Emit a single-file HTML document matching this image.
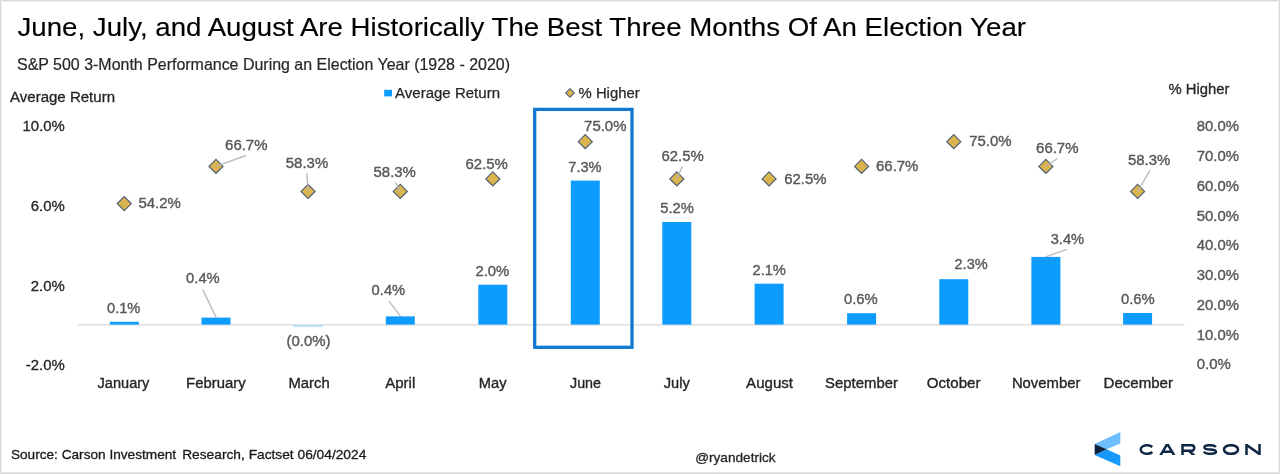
<!DOCTYPE html>
<html><head><meta charset="utf-8"><title>chart</title>
<style>
html,body{margin:0;padding:0;background:#fff;}
body{width:1280px;height:474px;overflow:hidden;position:relative;font-family:"Liberation Sans", sans-serif;}
svg{position:absolute;left:0;top:0;display:block;font-family:"Liberation Sans", sans-serif;filter:blur(0.6px);}
.b{position:absolute;background:#d9d9d9;}
</style></head><body>
<svg width="1280" height="474" viewBox="0 0 1280 474">
<text x="17.5" y="36.3" font-size="26.7" fill="#000" stroke="#000" stroke-width="0.15" text-anchor="start" textLength="1008.5" lengthAdjust="spacingAndGlyphs">June, July, and August Are Historically The Best Three Months Of An Election Year</text>
<text x="17" y="69.5" font-size="15.9" fill="#262626" stroke="#262626" stroke-width="0.2" text-anchor="start" textLength="493" lengthAdjust="spacingAndGlyphs">S&amp;P 500 3-Month Performance During an Election Year (1928 - 2020)</text>
<text x="10" y="102" font-size="14.67" fill="#262626" stroke="#262626" stroke-width="0.3" text-anchor="start" textLength="105" lengthAdjust="spacingAndGlyphs">Average Return</text>
<text x="1168.5" y="93.6" font-size="14.67" fill="#262626" stroke="#262626" stroke-width="0.3" text-anchor="start" textLength="61" lengthAdjust="spacingAndGlyphs">% Higher</text>
<rect x="384.2" y="89.8" width="7.8" height="6.6" fill="#0b9cfd"/>
<text x="395" y="97.6" font-size="14.67" fill="#262626" stroke="#262626" stroke-width="0.25" text-anchor="start" textLength="105" lengthAdjust="spacingAndGlyphs">Average Return</text>
<path d="M570 88.7 L574.3 93 L570 97.3 L565.7 93 Z" fill="#dab44c" stroke="#525f78" stroke-width="1.1"/>
<text x="578.6" y="97.6" font-size="14.67" fill="#262626" stroke="#262626" stroke-width="0.25" text-anchor="start" textLength="61" lengthAdjust="spacingAndGlyphs">% Higher</text>
<text x="22.599999999999994" y="131.3" font-size="14.67" fill="#262626" stroke="#262626" stroke-width="0.3" text-anchor="start" textLength="42.2" lengthAdjust="spacingAndGlyphs">10.0%</text>
<text x="30.799999999999997" y="210.6" font-size="14.67" fill="#262626" stroke="#262626" stroke-width="0.3" text-anchor="start" textLength="34" lengthAdjust="spacingAndGlyphs">6.0%</text>
<text x="30.799999999999997" y="291.4" font-size="14.67" fill="#262626" stroke="#262626" stroke-width="0.3" text-anchor="start" textLength="34" lengthAdjust="spacingAndGlyphs">2.0%</text>
<text x="25.799999999999997" y="370.0" font-size="14.67" fill="#262626" stroke="#262626" stroke-width="0.3" text-anchor="start" textLength="39" lengthAdjust="spacingAndGlyphs">-2.0%</text>
<text x="1196.8" y="131.2" font-size="14.9" fill="#595959" stroke="#595959" stroke-width="0.4" text-anchor="start" textLength="42.2" lengthAdjust="spacingAndGlyphs">80.0%</text>
<text x="1196.8" y="161.0" font-size="14.9" fill="#595959" stroke="#595959" stroke-width="0.4" text-anchor="start" textLength="42.2" lengthAdjust="spacingAndGlyphs">70.0%</text>
<text x="1196.8" y="190.7" font-size="14.9" fill="#595959" stroke="#595959" stroke-width="0.4" text-anchor="start" textLength="42.2" lengthAdjust="spacingAndGlyphs">60.0%</text>
<text x="1196.8" y="220.5" font-size="14.9" fill="#595959" stroke="#595959" stroke-width="0.4" text-anchor="start" textLength="42.2" lengthAdjust="spacingAndGlyphs">50.0%</text>
<text x="1196.8" y="250.2" font-size="14.9" fill="#595959" stroke="#595959" stroke-width="0.4" text-anchor="start" textLength="42.2" lengthAdjust="spacingAndGlyphs">40.0%</text>
<text x="1196.8" y="280.0" font-size="14.9" fill="#595959" stroke="#595959" stroke-width="0.4" text-anchor="start" textLength="42.2" lengthAdjust="spacingAndGlyphs">30.0%</text>
<text x="1196.8" y="309.8" font-size="14.9" fill="#595959" stroke="#595959" stroke-width="0.4" text-anchor="start" textLength="42.2" lengthAdjust="spacingAndGlyphs">20.0%</text>
<text x="1196.8" y="339.5" font-size="14.9" fill="#595959" stroke="#595959" stroke-width="0.4" text-anchor="start" textLength="42.2" lengthAdjust="spacingAndGlyphs">10.0%</text>
<text x="1196.8" y="369.3" font-size="14.9" fill="#595959" stroke="#595959" stroke-width="0.4" text-anchor="start" textLength="34" lengthAdjust="spacingAndGlyphs">0.0%</text>
<rect x="77.6" y="324.2" width="1107" height="1.3" fill="#d9d9d9"/>
<rect x="109.8" y="321.8" width="29" height="2.8" fill="#0b9cfd"/>
<rect x="201.5" y="317.6" width="29" height="7.0" fill="#0b9cfd"/>
<rect x="293.6" y="325.5" width="29" height="1.1" fill="#8fd0fb"/>
<rect x="385.8" y="316.4" width="29" height="8.2" fill="#0b9cfd"/>
<rect x="478.3" y="284.7" width="29" height="39.9" fill="#0b9cfd"/>
<rect x="570.8" y="180.6" width="29" height="144.0" fill="#0b9cfd"/>
<rect x="662.3" y="222.0" width="29" height="102.6" fill="#0b9cfd"/>
<rect x="754.6" y="283.7" width="29" height="40.9" fill="#0b9cfd"/>
<rect x="847.1" y="313.2" width="29" height="11.4" fill="#0b9cfd"/>
<rect x="939.3" y="279.2" width="29" height="45.4" fill="#0b9cfd"/>
<rect x="1031.4" y="256.9" width="29" height="67.7" fill="#0b9cfd"/>
<rect x="1123.1" y="313.0" width="29" height="11.6" fill="#0b9cfd"/>
<rect x="534.7" y="109.4" width="97.3" height="237.9" fill="none" stroke="#1278d2" stroke-width="3.3"/>
<path d="M124.3 196.6 L131.3 203.6 L124.3 210.6 L117.3 203.6 Z" fill="#dab44c" stroke="#525f78" stroke-width="1.2"/>
<path d="M216.0 159.4 L223.0 166.4 L216.0 173.4 L209.0 166.4 Z" fill="#dab44c" stroke="#525f78" stroke-width="1.2"/>
<path d="M308.1 184.4 L315.1 191.4 L308.1 198.4 L301.1 191.4 Z" fill="#dab44c" stroke="#525f78" stroke-width="1.2"/>
<path d="M400.3 184.4 L407.3 191.4 L400.3 198.4 L393.3 191.4 Z" fill="#dab44c" stroke="#525f78" stroke-width="1.2"/>
<path d="M492.8 171.9 L499.8 178.9 L492.8 185.9 L485.8 178.9 Z" fill="#dab44c" stroke="#525f78" stroke-width="1.2"/>
<path d="M585.3 134.7 L592.3 141.7 L585.3 148.7 L578.3 141.7 Z" fill="#dab44c" stroke="#525f78" stroke-width="1.2"/>
<path d="M676.8 171.9 L683.8 178.9 L676.8 185.9 L669.8 178.9 Z" fill="#dab44c" stroke="#525f78" stroke-width="1.2"/>
<path d="M769.1 171.9 L776.1 178.9 L769.1 185.9 L762.1 178.9 Z" fill="#dab44c" stroke="#525f78" stroke-width="1.2"/>
<path d="M861.6 159.4 L868.6 166.4 L861.6 173.4 L854.6 166.4 Z" fill="#dab44c" stroke="#525f78" stroke-width="1.2"/>
<path d="M953.8 134.7 L960.8 141.7 L953.8 148.7 L946.8 141.7 Z" fill="#dab44c" stroke="#525f78" stroke-width="1.2"/>
<path d="M1045.9 159.4 L1052.9 166.4 L1045.9 173.4 L1038.9 166.4 Z" fill="#dab44c" stroke="#525f78" stroke-width="1.2"/>
<path d="M1137.6 184.4 L1144.6 191.4 L1137.6 198.4 L1130.6 191.4 Z" fill="#dab44c" stroke="#525f78" stroke-width="1.2"/>
<line x1="246" y1="155.5" x2="216.0" y2="166.4" stroke="#b5b5b5" stroke-width="1.4" stroke-opacity="0.9"/>
<line x1="306.8" y1="173.3" x2="308.1" y2="191.4" stroke="#b5b5b5" stroke-width="1.4" stroke-opacity="0.9"/>
<line x1="395.3" y1="182.1" x2="400.3" y2="191.4" stroke="#b5b5b5" stroke-width="1.4" stroke-opacity="0.9"/>
<line x1="682.4" y1="166.2" x2="676.8" y2="178.9" stroke="#b5b5b5" stroke-width="1.4" stroke-opacity="0.9"/>
<line x1="1057.5" y1="158.5" x2="1045.9" y2="166.4" stroke="#b5b5b5" stroke-width="1.4" stroke-opacity="0.9"/>
<line x1="1150" y1="170.3" x2="1137.6" y2="191.4" stroke="#b5b5b5" stroke-width="1.4" stroke-opacity="0.9"/>
<line x1="202.6" y1="289.2" x2="216.2" y2="317.6" stroke="#b5b5b5" stroke-width="1.4" stroke-opacity="0.9"/>
<line x1="388.8" y1="300.8" x2="400.6" y2="316.4" stroke="#b5b5b5" stroke-width="1.4" stroke-opacity="0.9"/>
<line x1="1066.9" y1="249.3" x2="1045.6" y2="256.9" stroke="#b5b5b5" stroke-width="1.4" stroke-opacity="0.9"/>
<text x="138.4" y="208.3" font-size="15" fill="#595959" stroke="#595959" stroke-width="0.4" text-anchor="start" textLength="42.4" lengthAdjust="spacingAndGlyphs">54.2%</text>
<text x="225.1" y="149.5" font-size="15" fill="#595959" stroke="#595959" stroke-width="0.4" text-anchor="start" textLength="42.4" lengthAdjust="spacingAndGlyphs">66.7%</text>
<text x="285.8" y="168.4" font-size="15" fill="#595959" stroke="#595959" stroke-width="0.4" text-anchor="start" textLength="42.4" lengthAdjust="spacingAndGlyphs">58.3%</text>
<text x="373.5" y="176.7" font-size="15" fill="#595959" stroke="#595959" stroke-width="0.4" text-anchor="start" textLength="42.4" lengthAdjust="spacingAndGlyphs">58.3%</text>
<text x="465.5" y="168.6" font-size="15" fill="#595959" stroke="#595959" stroke-width="0.4" text-anchor="start" textLength="42.4" lengthAdjust="spacingAndGlyphs">62.5%</text>
<text x="584.1" y="130.9" font-size="15" fill="#595959" stroke="#595959" stroke-width="0.4" text-anchor="start" textLength="42.4" lengthAdjust="spacingAndGlyphs">75.0%</text>
<text x="661.4" y="160.6" font-size="15" fill="#595959" stroke="#595959" stroke-width="0.4" text-anchor="start" textLength="42.4" lengthAdjust="spacingAndGlyphs">62.5%</text>
<text x="784.2" y="183.5" font-size="15" fill="#595959" stroke="#595959" stroke-width="0.4" text-anchor="start" textLength="42.4" lengthAdjust="spacingAndGlyphs">62.5%</text>
<text x="876.0" y="171.0" font-size="15" fill="#595959" stroke="#595959" stroke-width="0.4" text-anchor="start" textLength="42.4" lengthAdjust="spacingAndGlyphs">66.7%</text>
<text x="969.2" y="146.3" font-size="15" fill="#595959" stroke="#595959" stroke-width="0.4" text-anchor="start" textLength="42.4" lengthAdjust="spacingAndGlyphs">75.0%</text>
<text x="1036.1" y="153.1" font-size="15" fill="#595959" stroke="#595959" stroke-width="0.4" text-anchor="start" textLength="42.4" lengthAdjust="spacingAndGlyphs">66.7%</text>
<text x="1127.9" y="164.8" font-size="15" fill="#595959" stroke="#595959" stroke-width="0.4" text-anchor="start" textLength="42.4" lengthAdjust="spacingAndGlyphs">58.3%</text>
<text x="107" y="312.6" font-size="15" fill="#595959" stroke="#595959" stroke-width="0.4" text-anchor="start" textLength="33.4" lengthAdjust="spacingAndGlyphs">0.1%</text>
<text x="186.1" y="282.8" font-size="15" fill="#595959" stroke="#595959" stroke-width="0.4" text-anchor="start" textLength="33.6" lengthAdjust="spacingAndGlyphs">0.4%</text>
<text x="286.4" y="345.8" font-size="15" fill="#595959" stroke="#595959" stroke-width="0.4" text-anchor="start" textLength="44.2" lengthAdjust="spacingAndGlyphs">(0.0%)</text>
<text x="371.6" y="295.0" font-size="15" fill="#595959" stroke="#595959" stroke-width="0.4" text-anchor="start" textLength="33.6" lengthAdjust="spacingAndGlyphs">0.4%</text>
<text x="475.5" y="275.7" font-size="15" fill="#595959" stroke="#595959" stroke-width="0.4" text-anchor="start" textLength="33.8" lengthAdjust="spacingAndGlyphs">2.0%</text>
<text x="568.3" y="171.5" font-size="15" fill="#595959" stroke="#595959" stroke-width="0.4" text-anchor="start" textLength="33.2" lengthAdjust="spacingAndGlyphs">7.3%</text>
<text x="660.2" y="212.8" font-size="15" fill="#595959" stroke="#595959" stroke-width="0.4" text-anchor="start" textLength="33.6" lengthAdjust="spacingAndGlyphs">5.2%</text>
<text x="752.5" y="274.7" font-size="15" fill="#595959" stroke="#595959" stroke-width="0.4" text-anchor="start" textLength="33.4" lengthAdjust="spacingAndGlyphs">2.1%</text>
<text x="844" y="304.4" font-size="15" fill="#595959" stroke="#595959" stroke-width="0.4" text-anchor="start" textLength="33.7" lengthAdjust="spacingAndGlyphs">0.6%</text>
<text x="954.5" y="269.0" font-size="15" fill="#595959" stroke="#595959" stroke-width="0.4" text-anchor="start" textLength="33.2" lengthAdjust="spacingAndGlyphs">2.3%</text>
<text x="1050.7" y="244.4" font-size="15" fill="#595959" stroke="#595959" stroke-width="0.4" text-anchor="start" textLength="33.4" lengthAdjust="spacingAndGlyphs">3.4%</text>
<text x="1121" y="303.8" font-size="15" fill="#595959" stroke="#595959" stroke-width="0.4" text-anchor="start" textLength="33.8" lengthAdjust="spacingAndGlyphs">0.6%</text>
<text x="97.5" y="387.6" font-size="14.9" fill="#262626" stroke="#262626" stroke-width="0.35" text-anchor="start" textLength="51.9" lengthAdjust="spacingAndGlyphs">January</text>
<text x="186.1" y="387.6" font-size="14.9" fill="#262626" stroke="#262626" stroke-width="0.35" text-anchor="start" textLength="59.5" lengthAdjust="spacingAndGlyphs">February</text>
<text x="288.4" y="387.6" font-size="14.9" fill="#262626" stroke="#262626" stroke-width="0.35" text-anchor="start" textLength="41.3" lengthAdjust="spacingAndGlyphs">March</text>
<text x="385.2" y="387.6" font-size="14.9" fill="#262626" stroke="#262626" stroke-width="0.35" text-anchor="start" textLength="30.1" lengthAdjust="spacingAndGlyphs">April</text>
<text x="478.8" y="387.6" font-size="14.9" fill="#262626" stroke="#262626" stroke-width="0.35" text-anchor="start" textLength="27.7" lengthAdjust="spacingAndGlyphs">May</text>
<text x="570" y="387.6" font-size="14.9" fill="#262626" stroke="#262626" stroke-width="0.35" text-anchor="start" textLength="31" lengthAdjust="spacingAndGlyphs">June</text>
<text x="663.8" y="387.6" font-size="14.9" fill="#262626" stroke="#262626" stroke-width="0.35" text-anchor="start" textLength="26.0" lengthAdjust="spacingAndGlyphs">July</text>
<text x="746.1" y="387.6" font-size="14.9" fill="#262626" stroke="#262626" stroke-width="0.35" text-anchor="start" textLength="46.9" lengthAdjust="spacingAndGlyphs">August</text>
<text x="825.1" y="387.6" font-size="14.9" fill="#262626" stroke="#262626" stroke-width="0.35" text-anchor="start" textLength="72.9" lengthAdjust="spacingAndGlyphs">September</text>
<text x="926.8" y="387.6" font-size="14.9" fill="#262626" stroke="#262626" stroke-width="0.35" text-anchor="start" textLength="53.7" lengthAdjust="spacingAndGlyphs">October</text>
<text x="1011.9" y="387.6" font-size="14.9" fill="#262626" stroke="#262626" stroke-width="0.35" text-anchor="start" textLength="68.5" lengthAdjust="spacingAndGlyphs">November</text>
<text x="1103.5" y="387.6" font-size="14.9" fill="#262626" stroke="#262626" stroke-width="0.35" text-anchor="start" textLength="69.5" lengthAdjust="spacingAndGlyphs">December</text>
<text x="10.9" y="459" font-size="13.3" fill="#1a1a1a" stroke="#1a1a1a" stroke-width="0.3" text-anchor="start" textLength="165.2" lengthAdjust="spacingAndGlyphs">Source: Carson Investment</text>
<text x="182.2" y="459" font-size="13.3" fill="#1a1a1a" stroke="#1a1a1a" stroke-width="0.3" text-anchor="start" textLength="184.1" lengthAdjust="spacingAndGlyphs">Research, Factset 06/04/2024</text>
<text x="695.2" y="461.5" font-size="13.3" fill="#262626" stroke="#262626" stroke-width="0.3" text-anchor="start" textLength="80.4" lengthAdjust="spacingAndGlyphs">@ryandetrick</text>
<path d="M1120.3 431.9 L1120.3 443.5 L1106.6 449.3 L1094.7 444 Z" fill="#6ebeff"/>
<path d="M1094.7 455.1 L1106.6 449.3 L1120.3 455.4 L1120.3 466.2 Z" fill="#1798fb"/>
<path d="M1094.7 444 L1106.6 449.3 L1094.7 455.1 Z" fill="#0c2340"/>
<clipPath id="wm"><rect x="1130" y="443.9" width="140" height="11.1"/></clipPath><g clip-path="url(#wm)">
<path d="M1152.3 447 A6.4 4.3 0 1 0 1152.3 452" fill="none" stroke="#0f2744" stroke-width="2.5" stroke-linejoin="miter" stroke-miterlimit="4"/>
<path d="M1160.1 456 L1167.35 443.9 L1174.6 456 M1162.8 451.7 L1171.9 451.7" fill="none" stroke="#0f2744" stroke-width="2.5" stroke-linejoin="miter" stroke-miterlimit="4"/>
<path d="M1182.5 456 L1182.5 445.15 L1191.4 445.15 A2.85 2.85 0 0 1 1191.4 450.85 L1182.5 450.85 M1189.0 450.85 L1195.3 456.5" fill="none" stroke="#0f2744" stroke-width="2.5" stroke-linejoin="miter" stroke-miterlimit="4"/>
<path d="M1215.9 447.1 C1214.6 445.4 1212.4 445.15 1210 445.15 C1206.3 445.15 1204.4 445.9 1204.4 447.4 C1204.4 449.1 1207 449.3 1210.1 449.5 C1213.6 449.7 1216 450.1 1216 451.8 C1216 453.4 1213.5 453.85 1210.1 453.85 C1207 453.85 1204.9 453.4 1203.9 451.7" fill="none" stroke="#0f2744" stroke-width="2.5" stroke-linejoin="miter" stroke-miterlimit="4"/>
<path d="M1223.95 449.5 A7.05 4.35 0 1 0 1238.05 449.5 A7.05 4.35 0 1 0 1223.95 449.5 Z" fill="none" stroke="#0f2744" stroke-width="2.5" stroke-linejoin="miter" stroke-miterlimit="4"/>
<path d="M1246.5 456 L1246.5 444.9 L1259.5 454.1 L1259.5 443" fill="none" stroke="#0f2744" stroke-width="2.5" stroke-linejoin="miter" stroke-miterlimit="4"/>
</g>
</svg>
<div class="b" style="left:0;top:0;width:1280px;height:2px;background:linear-gradient(#d8d8d8 0 50%,#f1f1f1 50% 100%)"></div>
<div class="b" style="left:0;top:0;width:2px;height:474px;background:linear-gradient(90deg,#d6d6d6 0 50%,#f1f1f1 50% 100%)"></div>
<div class="b" style="right:0;top:0;width:2px;height:474px;background:linear-gradient(90deg,#f3f3f3 0 50%,#d8d8d8 50% 100%)"></div>
<div class="b" style="left:0;bottom:0;width:1280px;height:2px;background:linear-gradient(#e6e6e6 0 50%,#d6d6d6 50% 100%)"></div>
</body></html>
